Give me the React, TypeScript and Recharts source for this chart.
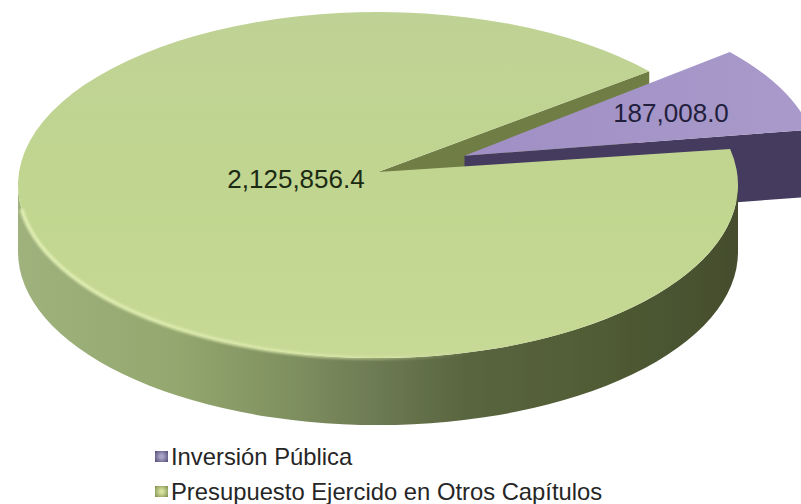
import React from "react";
import { PieChart, Pie, Legend } from "recharts";

const names = ["Inversión Pública", "Presupuesto Ejercido en Otros Capítulos"];
const values = [187008.0, 2125856.4];
const sliceColors = ["#a797c9", "#c1d68e"];
const chartData = names.map((name, i) => ({ name, value: values[i], fill: sliceColors[i] }));

const SQUASH = 173 / 360;
const DEPTH = 67;
const APEX_LIFT = 13;
const EXPLODE = [90, 0];
const APEX_NUDGE = [
  { x: 6, y: 3 },
  { x: 0, y: 0 },
];
const LABEL_SPOTS = [
  { x: 671, y: 113 },
  { x: 296, y: 179 },
];
const RAD = Math.PI / 180;

const fmt = (v: number) =>
  v.toLocaleString("en-US", { minimumFractionDigits: 1, maximumFractionDigits: 1 });

const SliceShape = (props: any) => {
  const { cx, cy, outerRadius, startAngle, endAngle, midAngle, payload } = props;
  const idx = names.indexOf(payload?.name ?? props.name);
  const rx = outerRadius;
  const ry = outerRadius * SQUASH;

  const ex = EXPLODE[idx] * Math.cos(midAngle * RAD);
  const ey = -EXPLODE[idx] * SQUASH * Math.sin(midAngle * RAD);
  const ox = cx + ex;
  const oy = cy + ey;
  const at = (a: number, dx = ox, dy = oy) => ({
    x: dx + rx * Math.cos(a * RAD),
    y: dy - ry * Math.sin(a * RAD),
  });

  const s = at(startAngle);
  const e = at(endAngle);
  const large = Math.abs(endAngle - startAngle) > 180 ? 1 : 0;
  const apexX = ox + APEX_NUDGE[idx].x;
  const apexY = oy - APEX_LIFT + APEX_NUDGE[idx].y;
  const top = `M${apexX},${apexY} L${s.x},${s.y} A${rx},${ry} 0 ${large} 0 ${e.x},${e.y} Z`;

  if (idx === 0) {
    // wall of the big slice seen through the gap, then the exploded slice
    const t = at(endAngle, cx, cy);
    const gapWall = `M${cx},${cy - APEX_LIFT} L${t.x},${t.y} L${t.x},${t.y + DEPTH} L${cx},${cy - APEX_LIFT + DEPTH} Z`;
    const cutWall = `M${apexX},${apexY} L${s.x},${s.y} L${s.x},${s.y + DEPTH} L${apexX},${apexY + DEPTH} Z`;
    return (
      <g filter="url(#edge)">
        <path d={gapWall} fill="#6f7d44" />
        <path d={cutWall} fill="#443a5e" />
        <path d={top} fill="url(#purpleTop)" />
      </g>
    );
  }

  const l = at(180);
  const r = at(360);
  const wall = `M${l.x},${l.y} A${rx},${ry} 0 0 0 ${r.x},${r.y} L${r.x},${r.y + DEPTH} A${rx},${ry} 0 0 1 ${l.x},${l.y + DEPTH} Z`;
  const a1 = at(188);
  const a2 = at(285);
  return (
    <g filter="url(#edge)">
      <path d={wall} fill="url(#greenWall)" />
      <path d={top} fill="url(#greenTop)" />
      <path
        d={`M${a1.x},${a1.y} A${rx},${ry} 0 0 0 ${a2.x},${a2.y}`}
        fill="none"
        stroke="url(#rim)"
        strokeWidth={4}
        filter="url(#soft)"
      />
    </g>
  );
};

const renderLabel = (props: any) => {
  const idx = names.indexOf(props.name);
  const spot = LABEL_SPOTS[idx];
  return (
    <text
      x={spot.x}
      y={spot.y}
      textAnchor="middle"
      dominantBaseline="central"
      fontFamily="Liberation Sans"
      fontSize={26}
      fill={idx === 0 ? "#221f3c" : "#1c2a14"}
    >
      {fmt(props.value)}
    </text>
  );
};

const legendSwatches = [
  "radial-gradient(circle, #a9a3c6 20%, #4f4872 100%)",
  "radial-gradient(circle, #d5e09a 20%, #7c8c4c 100%)",
];

const renderLegend = () => (
  <div style={{ fontFamily: "Liberation Sans", fontSize: 23.8, color: "#262626", lineHeight: "35px" }}>
    {names.map((n, i) => (
      <div key={n} style={{ display: "flex", alignItems: "center", whiteSpace: "nowrap" }}>
        <span style={{ width: 13, height: 11, marginRight: 3, background: legendSwatches[i] }} />
        {n}
      </div>
    ))}
  </div>
);

export default function App() {
  return (
    <div style={{ position: "absolute", left: 0, top: 0, width: 801, height: 504, overflow: "hidden", background: "#fff" }}>
      <PieChart width={801} height={504} margin={{ top: 0, right: 0, bottom: 0, left: 0 }}>
        <defs>
          <linearGradient id="greenWall" x1="0" y1="0" x2="1" y2="0">
            <stop offset="0" stopColor="#9fb27d" />
            <stop offset="0.22" stopColor="#93a76e" />
            <stop offset="0.38" stopColor="#7f9060" />
            <stop offset="0.5" stopColor="#6c7a52" />
            <stop offset="0.62" stopColor="#596640" />
            <stop offset="0.85" stopColor="#4e5932" />
            <stop offset="1" stopColor="#444d2e" />
          </linearGradient>
          <linearGradient id="greenTop" x1="0" y1="0" x2="0" y2="1">
            <stop offset="0" stopColor="#bfd295" />
            <stop offset="0.6" stopColor="#c1d68f" />
            <stop offset="1" stopColor="#c6d996" />
          </linearGradient>
          <linearGradient id="purpleTop" x1="0" y1="0" x2="1" y2="0">
            <stop offset="0" stopColor="#9f8fc4" />
            <stop offset="1" stopColor="#a99acb" />
          </linearGradient>
          <linearGradient id="rim" x1="0" y1="0" x2="1" y2="0">
            <stop offset="0" stopColor="#e2f0b4" stopOpacity="0.9" />
            <stop offset="0.6" stopColor="#dcebac" stopOpacity="0.8" />
            <stop offset="1" stopColor="#dcebac" stopOpacity="0" />
          </linearGradient>
          <filter id="soft" x="-5%" y="-20%" width="110%" height="140%">
            <feGaussianBlur stdDeviation="1.2" />
          </filter>
          <filter id="edge" x="-2%" y="-2%" width="104%" height="104%">
            <feGaussianBlur stdDeviation="0.7" />
          </filter>
        </defs>
        <Pie
          data={chartData}
          dataKey="value"
          nameKey="name"
          cx={378}
          cy={185}
          outerRadius={360}
          startAngle={12}
          endAngle={372}
          stroke="none"
          isAnimationActive={false}
          shape={SliceShape}
          label={renderLabel}
          labelLine={false}
        />
        <Legend
          content={renderLegend}
          layout="vertical"
          wrapperStyle={{ position: "absolute", left: 155, top: 439, width: "auto" }}
        />
      </PieChart>
    </div>
  );
}
